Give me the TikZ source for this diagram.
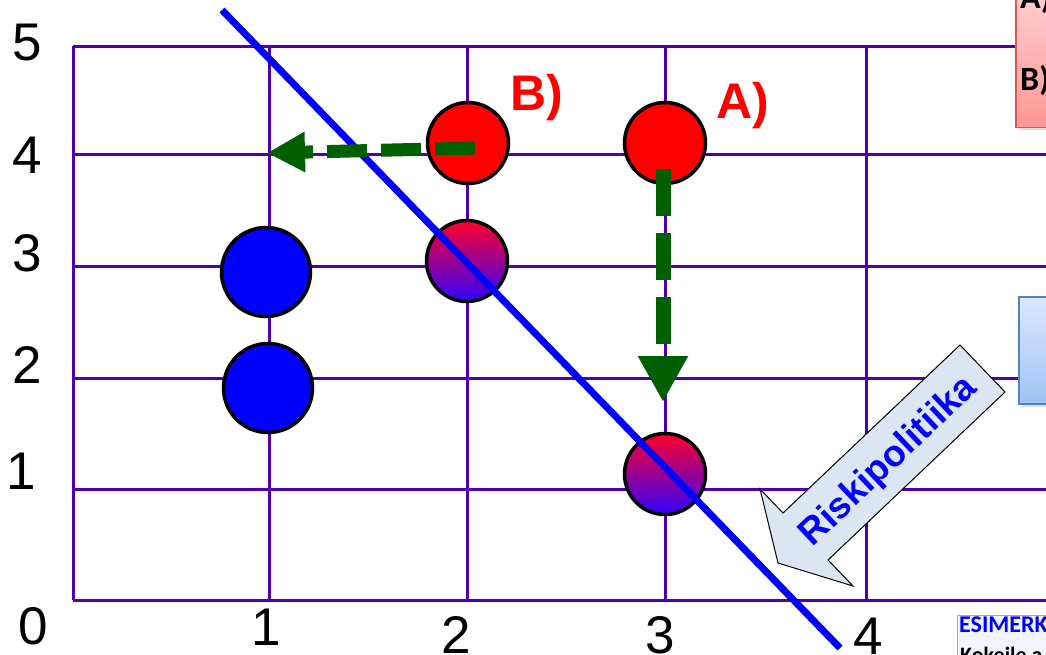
\documentclass[tikz,border=0pt]{standalone}
\usepackage{fontspec}
\setmainfont{Liberation Sans}
\newfontfamily\carlito{Carlito}
\usetikzlibrary{arrows.meta,shadows}
\definecolor{gridviolet}{RGB}{80,0,170}
\definecolor{movegreen}{RGB}{0,96,0}
\definecolor{arrowfill}{RGB}{220,230,242}
\definecolor{mixtop}{RGB}{255,0,40}
\definecolor{mixbot}{RGB}{50,0,255}
\definecolor{pinktop}{RGB}{255,212,212}
\definecolor{pinkbot}{RGB}{255,150,150}
\definecolor{pinkline}{RGB}{215,90,90}
\definecolor{bluetop}{RGB}{220,232,252}
\definecolor{bluebot}{RGB}{160,195,245}
\definecolor{blueline}{RGB}{80,130,200}

\begin{document}
\begin{tikzpicture}[x=1pt,y=-1pt,
  gridl/.style={draw=gridviolet, line width=3pt},
  ball/.style={draw, circle, line width=3.5pt, minimum size=81pt, inner sep=0pt},
  mixed/.style={ball, top color=mixtop, bottom color=mixbot},
  num/.style={inner sep=0pt, font=\fontsize{53}{60}\selectfont},
  lab/.style={inner sep=0pt, text=red, font=\fontsize{50}{56}\selectfont\bfseries},
  move/.style={draw=movegreen, line width=15pt},
  sidebox/.style={rectangle, line width=1.5pt, drop shadow={opacity=0.25,
    shadow xshift=3pt, shadow yshift=-3pt}}]
  \clip (0,0) rectangle (1046,654);
  \draw[gridl] (73,46) -- (1046,46);
  \draw[gridl] (73,154) -- (1046,154);
  \draw[gridl] (73,266) -- (1046,266);
  \draw[gridl] (73,378) -- (1046,378);
  \draw[gridl] (73,489) -- (1046,489);
  \draw[gridl] (73,600) -- (1046,600);
  \draw[gridl] (73,46) -- (73,600);
  \draw[gridl] (269,46) -- (269,600);
  \draw[gridl] (467,46) -- (467,600);
  \draw[gridl] (665,46) -- (665,600);
  \draw[gridl] (866,46) -- (866,600);

  \node[num] (y5) at (27,43)  {5};
  \node[num] (y4) at (27,155) {4};
  \node[num] (y3) at (27,253) {3};
  \node[num] (y2) at (27,365) {2};
  \node[num] (y1) at (21,471) {1};
  \node[num] (x0) at (33,626) {0};
  \node[num] (x1) at (266,627) {1};
  \node[num] (x2) at (456,635) {2};
  \node[num] (x3) at (660,635) {3};
  \node[num] (x4) at (868,636) {4};

  \node[ball, fill=red]  (34) at (665,143) {};
  \node[ball, fill=red]  (24) at (468,143) {};
  \node[mixed]           (23) at (467,261) {};
  \node[mixed]           (31) at (665,474) {};
  \node[ball, fill=blue, minimum size=89pt] (13) at (266,272) {};
  \node[ball, fill=blue, minimum size=89pt] (12) at (268,388) {};
  \node[lab] (la) at (743,106) {A)};
  \node[lab] (lb) at (537,98)  {B)};

  \coordinate (rp1) at (222,10);
  \coordinate (rp2) at (840,648);
  \draw[blue, line width=7pt] (rp1) -- (rp2);

  \coordinate (a0) at (663,169);
  \coordinate (a1) at (663,402);
  \coordinate (b0) at (475,148);
  \coordinate (b1) at (267,153);
  \draw[move, dash pattern=on 47pt off 17pt,
    -{Triangle[length=46pt,width=47pt]}] (a0) -- (a1);
  \draw[move, line width=13pt, dash pattern=on 40pt off 14pt,
    -{Triangle[length=38pt,width=38pt]}] (b0) -- (b1);

  \filldraw[fill=arrowfill, draw=black, line width=1pt]
    (778,563) -- (760,489) -- (783,513) -- (960,345) -- (1005,392)
    -- (828,560) -- (853,586) -- cycle;
  \node[rotate=43.5, text=blue, inner sep=0pt,
    font=\fontsize{37}{42}\selectfont\bfseries] (risk) at (889,462) {Riskipolitiika};

  \node[sidebox, draw=pinkline, top color=pinktop, bottom color=pinkbot,
    minimum width=80pt, minimum height=150pt, anchor=south west] (notes) at (1015,128) {};
  \node[anchor=west, inner sep=0pt, font=\carlito\fontsize{34}{40}\selectfont\bfseries]
    (na) at (1020,-2) {A)};
  \node[anchor=west, inner sep=0pt, font=\carlito\fontsize{34}{40}\selectfont\bfseries]
    (nb) at (1020,80) {B)};

  \node[sidebox, draw=blueline, top color=bluetop, bottom color=bluebot,
    minimum width=80pt, minimum height=107pt, anchor=north west] (info) at (1018,296) {};

  \node[sidebox, draw={rgb,255:red,150;green,165;blue,195}, fill={rgb,255:red,240;green,244;blue,252},
    line width=1pt, minimum width=100pt, minimum height=60pt, anchor=north west] (ex) at (957,615) {};
  \node[anchor=north west, inner sep=0pt, text=blue,
    font=\carlito\fontsize{24}{27}\selectfont\bfseries] (ext) at (959,617) {ESIMERKKI};
  \node[anchor=north west, inner sep=0pt,
    font=\carlito\fontsize{22}{26}\selectfont\bfseries] (exk) at (960,647) {Kokeile a};
\end{tikzpicture}
\end{document}
